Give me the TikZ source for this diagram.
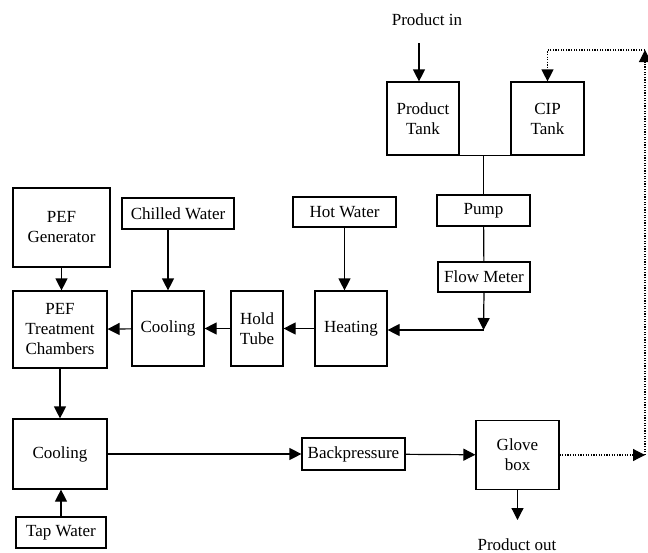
\documentclass[tikz,border=0pt]{standalone}
\usepackage{fontspec}
\setmainfont{Liberation Serif}
\usetikzlibrary{arrows.meta}

\begin{document}
\begin{tikzpicture}[x=0.5pt,y=-0.5pt,
    box/.style={draw, line width=0.6pt, align=center, inner sep=0pt, font=\fontsize{8.5}{10}\selectfont},
    lbl/.style={font=\fontsize{8.5}{10}\selectfont},
    pipe/.style={line width=0.6pt},
    flow/.style={pipe, -{Triangle[length=6pt,width=6pt]}},
    ret/.style={flow, dash pattern=on 0.6pt off 0.7pt}]
    \useasboundingbox (0,0) rectangle (648,552);

    \node[lbl] (prodin) at (427,20) {Product in};
    \node[box, minimum width=36pt, minimum height=36.5pt] (ptank) at (423,118.5) {Product\\Tank};
    \node[box, minimum width=36.5pt, minimum height=36.5pt] (cip) at (547.5,118.5) {CIP\\Tank};
    \node[box, minimum width=46.5pt, minimum height=15.5pt] (pump) at (483.5,210.5) {Pump};
    \node[box, minimum width=46pt, minimum height=15pt] (flow) at (484,277) {Flow Meter};
    \node[box, minimum width=51.5pt, minimum height=15pt] (hot) at (344.5,212) {Hot Water};
    \node[box, minimum width=36pt, minimum height=37.5pt] (heat) at (351,328.5) {Heating};
    \node[box, minimum width=26pt, minimum height=37.5pt] (hold) at (257,328.5) {Hold\\Tube};
    \node[box, minimum width=36pt, minimum height=37.5pt] (coolA) at (168,328.5) {Cooling};
    \node[box, minimum width=56pt, minimum height=15.5pt] (chilled) at (178,213.5) {Chilled Water};
    \node[box, minimum width=48.5pt, minimum height=39.5pt] (pefgen) at (61.5,227.5) {PEF\\Generator};
    \node[box, minimum width=47pt, minimum height=38.5pt] (peftc) at (60,329.5) {PEF\\Treatment\\Chambers};
    \node[box, minimum width=47pt, minimum height=35pt] (coolB) at (60,454) {Cooling};
    \node[box, minimum width=45pt, minimum height=15.5pt] (tap) at (61,532.5) {Tap Water};
    \node[box, minimum width=51.5pt, minimum height=16pt] (back) at (353.5,454) {Backpressure};
    \node[box, minimum width=41.5pt, minimum height=34.5pt] (glove) at (517.5,455) {Glove\\box};
    \node[lbl] (prodout) at (517,545) {Product out};

    \coordinate (inpt) at (419,43);
    \coordinate (join) at (483.5,155);
    \coordinate (bend) at (483.5,330);
    \coordinate (pout) at (517.5,520);
    \coordinate (rcA) at (645,455);
    \coordinate (rcB) at (645,50);

    % product line
    \draw[flow] (inpt) -- (inpt |- ptank.north);
    \draw[pipe] (ptank.south east) -- (cip.south west);
    \draw[pipe] (join) -- (pump.north);
    \draw[pipe] (pump) -- (flow);
    \draw[flow] (flow.south) -- (bend);
    \draw[flow] (bend) -- (bend -| heat.east);
    \draw[flow] (hot.south) -- (hot.south |- heat.north);
    \draw[flow] (heat) -- (hold);
    \draw[flow] (hold) -- (coolA);
    \draw[flow] (coolA) -- (peftc);
    \draw[flow] (chilled.south -| coolA.north) -- (coolA.north);
    \draw[flow] (pefgen.south) -- (pefgen.south |- peftc.north);
    \draw[flow] (peftc.south) -- (coolB.north);
    \draw[flow] (tap.north) -- (tap.north |- coolB.south);
    \draw[flow] (coolB) -- (back);
    \draw[flow] (back) -- (glove);
    \draw[flow] (glove.south) -- (pout);

    % CIP return
    \draw[ret] (glove.east) -- (rcA);
    \draw[ret] (rcA) -- (rcB);
    \draw[ret] (rcB) -| (cip.north);

\end{tikzpicture}
\end{document}
